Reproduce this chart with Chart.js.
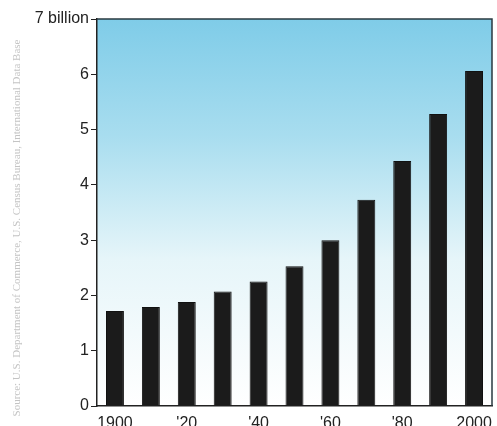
<!DOCTYPE html>
<html>
<head>
<meta charset="utf-8">
<script src="https://cdn.jsdelivr.net/npm/chart.js@4.4.1/dist/chart.umd.min.js"></script>
<style>
  html, body { margin: 0; padding: 0; background: #fff; }
  #wrap { width: 497px; height: 426px; position: relative; }
</style>
</head>
<body>
<div id="wrap"><canvas id="grafico"></canvas></div>
<script>
// world population by decade, billions
var anos = ['1900', '1910', '1920', '1930', '1940', '1950', '1960', '1970', '1980', '1990', '2000'];
var populacao = [1.72, 1.79, 1.88, 2.07, 2.25, 2.53, 3.0, 3.73, 4.43, 5.28, 6.06];
var rotulosX = ['1900', '', "'20", '', "'40", '', "'60", '', "'80", '', '2000'];
var rotulosY = ['0', '1', '2', '3', '4', '5', '6', '7 billion'];
var fonte = 'Source: U.S. Department of Commerce, U.S. Census Bureau, International Data Base';

// sky gradient behind the bars + frame on top/right
var fundo = {
    id: 'fundo',
    beforeDraw: function (chart) {
        var a = chart.chartArea, ctx = chart.ctx;
        var g = ctx.createLinearGradient(0, a.top, 0, a.bottom);
        g.addColorStop(0, '#7fcce8');
        g.addColorStop(0.3, '#a8ddef');
        g.addColorStop(0.62, '#e6f5f9');
        g.addColorStop(1, '#ffffff');
        ctx.save();
        ctx.fillStyle = g;
        ctx.fillRect(a.left, a.top, a.right - a.left, a.bottom - a.top);
        ctx.restore();
    },
    afterDraw: function (chart) {
        var a = chart.chartArea, ctx = chart.ctx;
        ctx.save();
        ctx.strokeStyle = '#2a3a40';
        ctx.lineWidth = 1.5;
        ctx.beginPath();
        ctx.moveTo(a.left, a.top);
        ctx.lineTo(a.right, a.top);
        ctx.lineTo(a.right, a.bottom);
        ctx.stroke();
        // faint rotated credit line
        ctx.translate(17, 228);
        ctx.rotate(-Math.PI / 2);
        ctx.fillStyle = '#c4c4c4';
        ctx.font = '11px "Liberation Serif", serif';
        ctx.textAlign = 'center';
        ctx.textBaseline = 'middle';
        ctx.fillText(fonte, 0, 0);
        ctx.restore();
    }
};

new Chart(document.getElementById('grafico').getContext('2d'), {
    type: 'bar',
    data: {
        labels: anos,
        datasets: [{
            label: 'Population',
            data: populacao,
            backgroundColor: '#1b1b1b',
            borderColor: '#111',
            borderWidth: 1,
            barPercentage: 0.5,
            categoryPercentage: 1
        }]
    },
    options: {
        responsive: true,
        maintainAspectRatio: false,
        animation: false,
        layout: { padding: { top: 19, right: 5, left: 0, bottom: 0 } },
        plugins: { legend: { display: false }, tooltip: { enabled: false } },
        scales: {
            x: {
                grid: { display: false },
                border: { display: true, color: '#222', width: 1.5 },
                ticks: {
                    autoSkip: false,
                    maxRotation: 0,
                    padding: 0,
                    color: '#222',
                    font: { family: '"Liberation Sans", Arial, sans-serif', size: 16 },
                    callback: function (v, i) { return rotulosX[i]; }
                },
                afterFit: function (s) { s.height = 20; }
            },
            y: {
                min: 0,
                max: 7,
                grid: { drawOnChartArea: false, drawTicks: true, tickLength: 6, color: '#222' },
                border: { display: true, color: '#222', width: 1.5 },
                ticks: {
                    stepSize: 1,
                    padding: 2,
                    color: '#222',
                    font: { family: '"Liberation Sans", Arial, sans-serif', size: 16 },
                    callback: function (v) { return rotulosY[v]; }
                },
                afterFit: function (s) { s.width = 97; }
            }
        }
    },
    plugins: [fundo]
});
</script>
</body>
</html>
